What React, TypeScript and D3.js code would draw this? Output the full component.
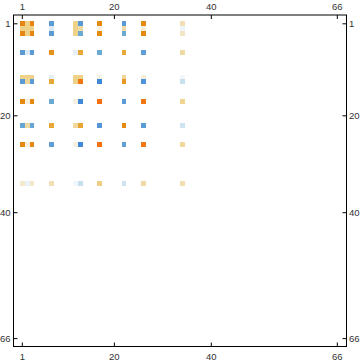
import React, { useRef, useEffect } from 'react';
import * as d3 from 'd3';

// rows / columns of the matrix that hold non-zero entries
const indices = [1, 2, 3, 7, 12, 13, 17, 22, 26, 34];

// values per row, in the same column order as `indices`
const values: number[][] = [
  [0.85, 0.4, 0.85, -0.8, 0.4, -0.8, 0.8, -0.8, 0.8, 0.25],
  [0.4, 0.4, 0.4, -0.2, 0.4, 0.3, 0.1, 0.3, 0.12, -0.1],
  [0.85, 0.4, 0.85, -0.8, 0.4, -0.6, 0.8, -0.6, 0.8, 0.2],
  [-0.8, -0.2, -0.8, 0.75, -0.15, 0.6, -0.6, 0.6, -0.75, 0.3],
  [0.4, 0.4, 0.4, -0.15, 0.4, 0.4, 0.1, 0.35, 0.12, -0.08],
  [-0.8, 0.35, -0.8, 0.6, 0.4, 0.95, -1, 0.7, -0.9, -0.35],
  [0.8, 0.1, 0.8, -0.6, 0.1, -1, 1, -0.8, 0.95, 0.38],
  [-0.65, 0.3, -0.65, 0.6, 0.32, 0.62, -0.85, 0.8, -0.8, -0.3],
  [0.8, 0.1, 0.8, -0.75, 0.1, -1, 1, -0.75, 0.95, 0.32],
  [0.18, -0.12, 0.18, 0.25, -0.08, -0.35, 0.42, -0.3, 0.3, 0.26],
];

const tickValues = [1, 20, 40, 66];

const colorDomain = [-1, -0.8, -0.6, -0.35, -0.2, -0.1, 0, 0.1, 0.2, 0.3, 0.4, 0.6, 0.8, 1];
const colorRange = [
  '#4088d8', '#5b9bd5', '#6aaad3', '#c8e0ee', '#dbe9f4', '#eef5fa', '#ffffff',
  '#f5f0e0', '#f3e6c4', '#f0daa4', '#eed28a', '#e8a838', '#e48a10', '#f57010',
];

const App = () => {
  const ref = useRef<SVGSVGElement>(null);

  useEffect(() => {
    const svg = d3.select(ref.current);
    svg.selectAll('*').remove();

    const frame = { left: 13.5, right: 346.5, top: 15, bottom: 346.5 };

    const x = d3.scaleLinear().domain([1, 66]).range([22.3, 337.3]);
    const y = d3.scaleLinear().domain([1, 66]).range([23.8, 338.6]);
    const color = d3.scaleLinear<string>().domain(colorDomain).range(colorRange).clamp(true);

    const cells: { r: number; c: number; v: number }[] = [];
    values.forEach((row, i) =>
      row.forEach((v, j) => cells.push({ r: indices[i], c: indices[j], v }))
    );

    // matrix cells
    svg.append('g')
      .selectAll('rect')
      .data(cells)
      .enter().append('rect')
      .attr('x', d => x(d.c - 0.5))
      .attr('y', d => y(d.r - 0.5))
      .attr('width', d => x(d.c + 0.5) - x(d.c - 0.5))
      .attr('height', d => y(d.r + 0.5) - y(d.r - 0.5))
      .attr('fill', d => color(d.v))
      .attr('shape-rendering', 'crispEdges');

    // frame
    svg.append('rect')
      .attr('x', frame.left)
      .attr('y', frame.top)
      .attr('width', frame.right - frame.left)
      .attr('height', frame.bottom - frame.top)
      .attr('fill', 'none')
      .attr('stroke', '#000')
      .attr('stroke-width', 1);

    const tickLen = 4;
    const axes = svg.append('g').attr('stroke', '#000').attr('stroke-width', 1);

    tickValues.forEach(t => {
      axes.append('line').attr('x1', x(t)).attr('x2', x(t)).attr('y1', frame.top).attr('y2', frame.top + tickLen);
      axes.append('line').attr('x1', x(t)).attr('x2', x(t)).attr('y1', frame.bottom).attr('y2', frame.bottom - tickLen);
      axes.append('line').attr('y1', y(t)).attr('y2', y(t)).attr('x1', frame.left).attr('x2', frame.left + tickLen);
      axes.append('line').attr('y1', y(t)).attr('y2', y(t)).attr('x1', frame.right).attr('x2', frame.right - tickLen);
    });

    const labels = svg.append('g')
      .attr('font-family', 'Liberation Sans, Arial, sans-serif')
      .attr('font-size', 9.5)
      .attr('fill', '#333');

    tickValues.forEach(t => {
      labels.append('text').attr('x', x(t)).attr('y', 10).attr('text-anchor', 'middle').text(t);
      labels.append('text').attr('x', x(t)).attr('y', 359.5).attr('text-anchor', 'middle').text(t);
      labels.append('text').attr('x', 10.5).attr('y', y(t)).attr('dy', '0.35em').attr('text-anchor', 'end').text(t);
      labels.append('text').attr('x', 349).attr('y', y(t)).attr('dy', '0.35em').attr('text-anchor', 'start').text(t);
    });
  }, []);

  return (
    <svg
      ref={ref}
      width={360}
      height={363}
      style={{ position: 'absolute', left: 0, top: 0, background: '#fff' }}
    />
  );
};

export default App;
